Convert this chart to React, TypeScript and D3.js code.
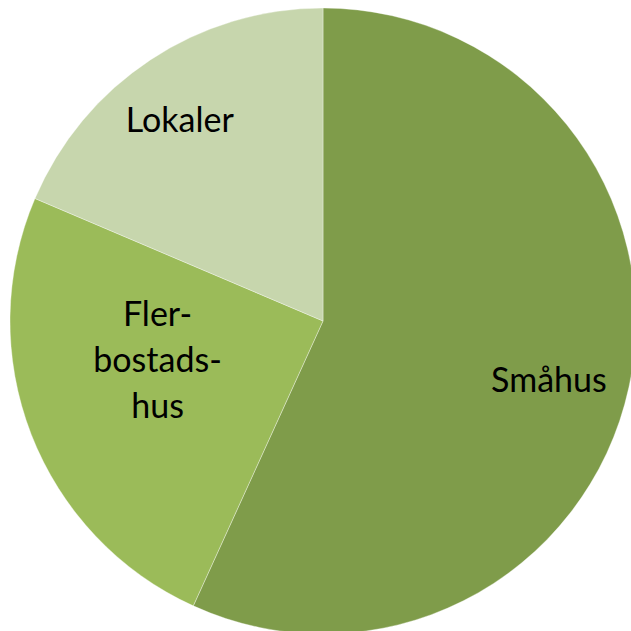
import * as d3 from "d3";
import React, { useEffect, useRef } from "react";

const categories = ["Småhus", "Flerbostadshus", "Lokaler"];
const shares = [56.8, 24.6, 18.6];
const labelLines = [["Småhus"], ["Fler-", "bostads-", "hus"], ["Lokaler"]];
const colors = ["#7F9C4A", "#9BBB59", "#C7D6AD"];

export default function App() {
  const ref = useRef<SVGSVGElement>(null);

  useEffect(() => {
    const cx = 323;
    const cy = 321;
    const radius = 313;
    // label placement: share of the radius and a small angle nudge (degrees)
    const labelPos = [
      { r: 0.746, shift: 2.4 },
      { r: 0.543, shift: 8 },
      { r: 0.79, shift: -1.9 },
    ];

    const svg = d3.select(ref.current);
    svg.selectAll("*").remove();

    const pie = d3
      .pie<number>()
      .sort(null)
      .value((d) => d);
    const arcs = pie(shares);
    const arc = d3.arc<d3.PieArcDatum<number>>().innerRadius(0).outerRadius(radius);

    const g = svg.append("g").attr("transform", `translate(${cx},${cy})`);

    g.selectAll("path")
      .data(arcs)
      .join("path")
      .attr("d", arc)
      .attr("fill", (_, i) => colors[i])
      .attr("stroke", "rgba(255,255,255,0.35)")
      .attr("stroke-width", 1);

    const labels = g
      .selectAll("text")
      .data(arcs)
      .join("text")
      .attr("text-anchor", "middle")
      .attr("font-family", "Lato, 'Open Sans', sans-serif")
      .attr("font-size", 34)
      .attr("fill", "#000")
      .attr("transform", (d, i) => {
        const p = labelPos[i];
        const a = (d.startAngle + d.endAngle) / 2 + (p.shift * Math.PI) / 180;
        const r = radius * p.r;
        return `translate(${r * Math.sin(a)},${-r * Math.cos(a)})`;
      });

    labels.each(function (d, i) {
      const lines = labelLines[i];
      const lh = 46;
      const t = d3.select(this);
      lines.forEach((line, k) => {
        t.append("tspan")
          .attr("x", 0)
          .attr("y", (k - (lines.length - 1) / 2) * lh)
          .attr("dy", "0.36em")
          .text(line);
      });
    });
  }, []);

  return (
    <svg
      ref={ref}
      width={631}
      height={631}
      style={{ position: "absolute", left: 0, top: 0, background: "#fff" }}
      aria-label={categories.join(", ")}
    />
  );
}
